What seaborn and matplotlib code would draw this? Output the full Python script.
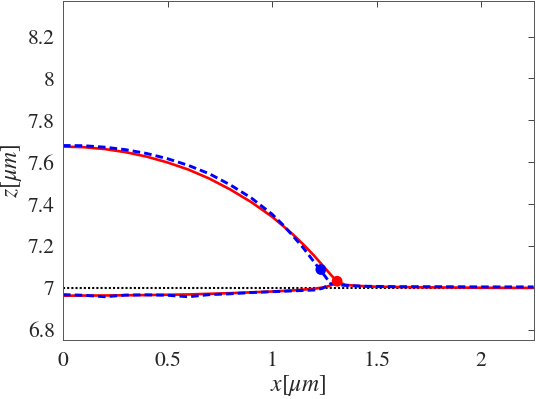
import numpy as np
import pandas as pd
import matplotlib
matplotlib.use("Agg")
import matplotlib.pyplot as plt
import seaborn as sns

# ---- data ----
red_up_x = [0, 0.1, 0.2, 0.3, 0.4, 0.5, 0.6, 0.7, 0.8, 0.9, 1.0, 1.05, 1.1, 1.15, 1.2, 1.25, 1.31]
red_up_z = [7.675, 7.672, 7.663, 7.648, 7.627, 7.599, 7.565, 7.522, 7.470, 7.410, 7.340, 7.298, 7.255, 7.207, 7.155, 7.098, 7.03]

red_low_x = [0, 0.2, 0.4, 0.6, 0.8, 1.0, 1.1, 1.2, 1.25, 1.28, 1.31]
red_low_z = [6.963, 6.964, 6.966, 6.969, 6.975, 6.983, 6.988, 6.996, 7.003, 7.012, 7.03]

red_right_x = [1.31, 1.35, 1.4, 1.5, 1.7, 2.0, 2.25]
red_right_z = [7.03, 7.015, 7.01, 7.006, 7.003, 7.001, 7.0]

blue_up_x = [0, 0.1, 0.2, 0.3, 0.4, 0.5, 0.6, 0.7, 0.8, 0.9, 1.0, 1.05, 1.1, 1.15, 1.2, 1.25, 1.28]
blue_up_z = [7.68, 7.679, 7.672, 7.660, 7.642, 7.617, 7.585, 7.545, 7.492, 7.430, 7.352, 7.303, 7.248, 7.19, 7.125, 7.06, 7.02]

blue_low_x = [0, 0.1, 0.2, 0.3, 0.4, 0.5, 0.6, 0.7, 0.8, 0.9, 1.0, 1.1, 1.2, 1.24, 1.28, 1.35, 1.45, 1.6, 1.8, 2.0, 2.25]
blue_low_z = [6.968, 6.965, 6.958, 6.966, 6.967, 6.965, 6.958, 6.968, 6.972, 6.978, 6.982, 6.986, 6.99, 6.998, 7.02, 7.012, 7.008, 7.006, 7.006, 7.005, 7.005]

ref_x = [0, 2.25]
ref_z = [7.0, 7.0]

blue_dot = ([1.233], [7.088])
red_dot = ([1.311], [7.032])

xticks = [0, 0.5, 1, 1.5, 2]
yticks = [6.8, 7, 7.2, 7.4, 7.6, 7.8, 8, 8.2]
ytick_labels = ["6.8", "7", "7.2", "7.4", "7.6", "7.8", "8", "8.2"]
xtick_labels = ["0", "0.5", "1", "1.5", "2"]

# ---- style ----
sns.set_style("white")
plt.rcParams["font.family"] = ["STIXGeneral", "DejaVu Serif"]
plt.rcParams["mathtext.fontset"] = "stix"
plt.rcParams["xtick.direction"] = "in"
plt.rcParams["ytick.direction"] = "in"

fig = plt.figure(figsize=(5.36, 3.99), dpi=100)
ax = fig.add_axes([63 / 536, 1 - 340.3 / 399, (533.5 - 63) / 536, (340.3 - 1) / 399])

kw_red = dict(color="#ff0000", lw=1.9, ax=ax, legend=False, sort=False)
kw_blue = dict(color="#0000ff", lw=2.1, ax=ax, legend=False, sort=False)

# black dotted reference line
sns.lineplot(x=ref_x, y=ref_z, color="black", lw=1.5, ax=ax, legend=False,
             linestyle=(0, (1.0, 1.0)))

# red solid curves
sns.lineplot(x=red_up_x, y=red_up_z, **kw_red)
sns.lineplot(x=red_low_x, y=red_low_z, **kw_red)
sns.lineplot(x=red_right_x, y=red_right_z, **kw_red)

# blue dashed curves
for xs, zs in [(blue_up_x, blue_up_z), (blue_low_x, blue_low_z)]:
    sns.lineplot(x=xs, y=zs, linestyle=(0, (2.6, 1.4)), **kw_blue)

# dots
sns.scatterplot(x=blue_dot[0], y=blue_dot[1], color="#0000ff", s=60, edgecolor="none", ax=ax, zorder=5)
sns.scatterplot(x=red_dot[0], y=red_dot[1], color="#ff0000", s=60, edgecolor="none", ax=ax, zorder=5)

ax.set_xlim(0, 2.25)
ax.set_ylim(6.75, 8.37)
ax.set_xticks(xticks)
ax.set_xticklabels(xtick_labels)
ax.set_yticks(yticks)
ax.set_yticklabels(ytick_labels)

ax.tick_params(axis="both", which="both", labelsize=15.5, colors="#262626",
               length=4, width=0.6, top=True, right=True, pad=6,
               labelcolor="#262626")
ax.tick_params(axis="x", pad=8)
for sp in ax.spines.values():
    sp.set_visible(True)
    sp.set_color("#555555")
    sp.set_linewidth(0.7)

ax.set_xlabel(r"$x[\mu m]$", fontsize=17, color="#262626", labelpad=1)
ax.set_ylabel(r"$z[\mu m]$", fontsize=17, color="#262626")
ax.yaxis.set_label_coords(-0.082, 0.5)

fig.savefig("out.png", dpi=100)
